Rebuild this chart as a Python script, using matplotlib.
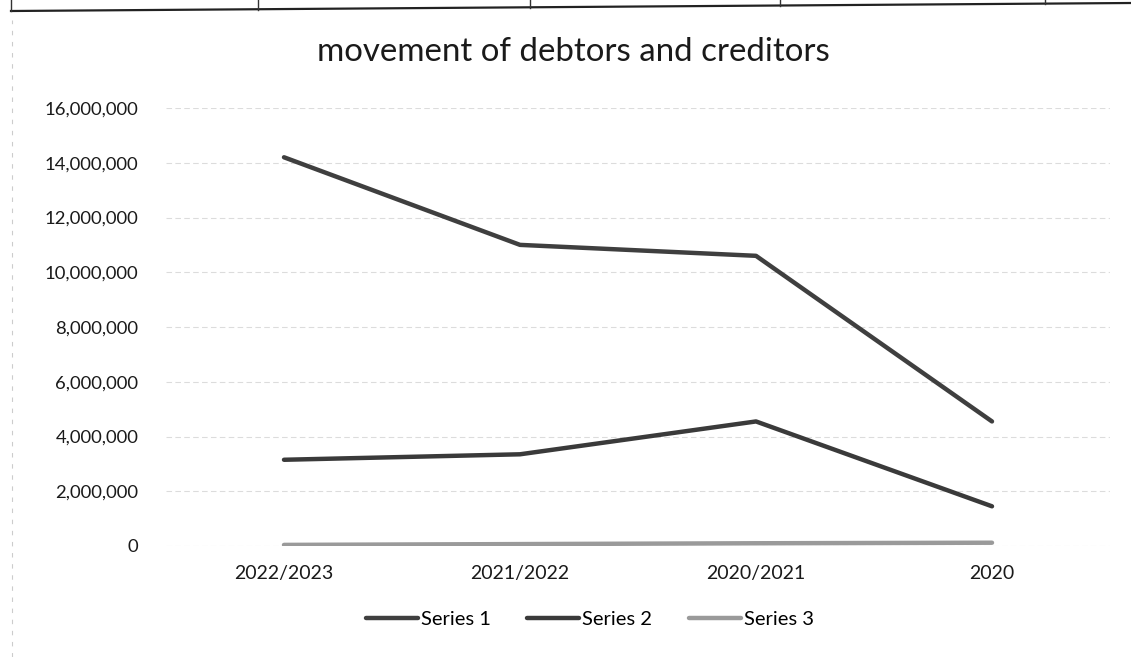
import matplotlib.pyplot as plt
from matplotlib.lines import Line2D
from matplotlib.ticker import FuncFormatter

plt.rcParams['font.family'] = ['Lato', 'DejaVu Sans']

# balances by year
years = ['2022/2023', '2021/2022', '2020/2021', '2020']
series_1 = [14200000, 11000000, 10600000, 4550000]
series_2 = [3150000, 3350000, 4550000, 1450000]
series_3 = [40000, 70000, 100000, 120000]
series_names = ['Series 1', 'Series 2', 'Series 3']

W, H = 1131, 657


def make_movement_plot(outfile='out.png'):
    fig = plt.figure(figsize=(W / 100, H / 100), dpi=100)
    ax = fig.add_axes([166 / W, 1 - 546 / H, 944 / W, 438 / H])

    x = range(len(years))
    ax.plot(x, series_1, color='#3f3f3f', lw=3.2, solid_capstyle='round', label=series_names[0])
    ax.plot(x, series_2, color='#3a3a3a', lw=3.2, solid_capstyle='round', label=series_names[1])
    ax.plot(x, series_3, color='#9a9a9a', lw=3.2, solid_capstyle='round', label=series_names[2])

    ax.set_xlim(-0.5, 3.5)
    ax.set_ylim(0, 16000000)
    ax.set_yticks(range(0, 16000001, 2000000))
    ax.yaxis.set_major_formatter(FuncFormatter(lambda v, p: f'{int(v):,}'))
    ax.set_xticks(list(x))
    ax.set_xticklabels(years)
    ax.tick_params(axis='both', length=0, colors='#1a1a1a')
    ax.tick_params(axis='y', pad=20, labelsize=13.3)
    ax.tick_params(axis='x', pad=14, labelsize=14)

    ax.grid(axis='y', color='#dcdcdc', lw=0.8, ls=(0, (5, 3)))
    ax.set_axisbelow(True)
    for side in ax.spines.values():
        side.set_visible(False)

    fig.text(0.507, 0.921, 'movement of debtors and creditors', ha='center', va='center',
             fontsize=23.8, color='#1a1a1a')

    ax.legend(loc='center', bbox_to_anchor=(0.449, -0.168), ncol=3, frameon=False,
              fontsize=14.5, handlelength=2.6, handletextpad=0.15, columnspacing=1.8)

    # table rule and cell borders above the chart
    fig.add_artist(Line2D([11 / W, 1.0], [1 - 11 / H, 1 - 3 / H], color='#222222', lw=1.6))
    for xp, yp in [(11, 11), (258, 10), (530, 8), (780, 6), (1045, 4)]:
        fig.add_artist(Line2D([xp / W, xp / W], [1.0, 1 - yp / H], color='#333333', lw=1.0))
    # faint page edge on the left
    fig.add_artist(Line2D([12 / W, 12 / W], [0.0, 1 - 20 / H], color='#cccccc', lw=0.8,
                          ls=(0, (4, 6))))

    fig.savefig(outfile, dpi=100)
    plt.close(fig)


if __name__ == '__main__':
    make_movement_plot()
